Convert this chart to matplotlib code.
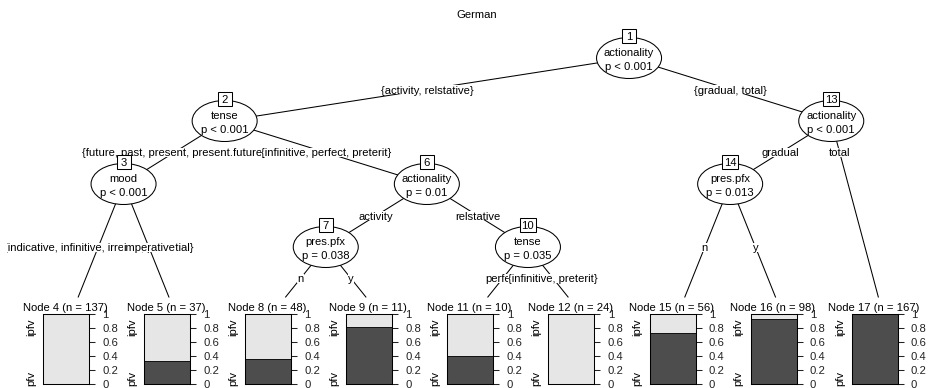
import matplotlib
matplotlib.use("Agg")
import matplotlib.pyplot as plt
from matplotlib.patches import Ellipse, Rectangle

W, H, DPI = 929, 388, 100
FS = 8.1
plt.rcParams['font.family'] = ['Liberation Sans', 'DejaVu Sans']

title = "German"

# inner (split) nodes
inner_ids = [1, 2, 3, 6, 7, 10, 13, 14]
split_vars = ["actionality", "tense", "mood", "actionality",
              "pres.pfx", "tense", "actionality", "pres.pfx"]
p_values = ["p < 0.001", "p < 0.001", "p < 0.001", "p = 0.01",
            "p = 0.038", "p = 0.035", "p < 0.001", "p = 0.013"]
children = [(2, 13), (3, 6), (4, 5), (7, 10), (8, 9), (11, 12), (14, 17), (15, 16)]
branch_labels = [
    ("{activity, relstative}", "{gradual, total}"),
    ("{future, past, present, present.future}", "{infinitive, perfect, preterit}"),
    ("{indicative, infinitive, irrealis, potential}", "imperative"),
    ("activity", "relstative"),
    ("n", "y"),
    ("perfect", "{infinitive, preterit}"),
    ("gradual", "total"),
    ("n", "y"),
]

# terminal nodes
terminal_ids = [4, 5, 8, 9, 11, 12, 15, 16, 17]
terminal_n = [137, 37, 48, 11, 10, 24, 56, 98, 167]
share_pfv = [0.007, 0.324, 0.354, 0.818, 0.40, 0.0, 0.732, 0.929, 1.0]
levels = ["pfv", "ipfv"]
level_colors = ["#4D4D4D", "#E6E6E6"]
yticks = [0, 0.2, 0.4, 0.6, 0.8, 1]
ytick_labels = ["0", "0.2", "0.4", "0.6", "0.8", "1"]

# ---- layout (pixel units) ----
X0, DX = 22.45, 101.1      # left boundary of terminal slot 0, slot width
Y0, DY = 58, 63            # row of the root, row spacing
TERM_TOP = 297             # top of terminal panels
BAR_TOP, BAR_BOTTOM = 314, 384
BAR_W = 46
CLIP_LEFT = 7.5            # left edge of the drawing region

kids = dict(zip(inner_ids, children))
edge_text = dict(zip(inner_ids, branch_labels))


def n_term(node):
    if node not in kids:
        return 1
    return sum(n_term(k) for k in kids[node])


pos = {}


def place(node, lo, depth):
    if node not in kids:
        pos[node] = (X0 + DX * (lo + 0.5), Y0 + DY * 4)
        return
    left, right = kids[node]
    nl = n_term(left)
    pos[node] = (X0 + DX * (lo + nl), Y0 + DY * depth)
    place(left, lo, depth + 1)
    place(right, lo + nl, depth + 1)


place(1, 0, 0)

fig = plt.figure(figsize=(W / DPI, H / DPI), dpi=DPI)
ax = fig.add_axes([0, 0, 1, 1])
ax.set_xlim(0, W)
ax.set_ylim(H, 0)
ax.axis('off')
renderer = fig.canvas.get_renderer()
region = Rectangle((CLIP_LEFT, 0), W - CLIP_LEFT, H, transform=ax.transData,
                   fc='none', ec='none')

ax.text(477, 18, title, ha='center', va='baseline', fontsize=FS)

zlab = [2.0]


def draw_edges(node):
    x0, y0 = pos[node]
    ks = kids[node]
    ypos = (y0 + min(pos[k][1] for k in ks)) / 2
    for k, lab in zip(ks, edge_text[node]):
        x1, y1 = pos[k]
        if k in kids:
            xe, ye = x1, y1
        else:
            t = (TERM_TOP - y0) / (y1 - y0)
            xe, ye = x0 + (x1 - x0) * t, TERM_TOP
        ax.plot([x0, xe], [y0, ye], color='black', lw=0.75, zorder=1)
        xpos = x0 + (x1 - x0) * (ypos - y0) / (y1 - y0)
        txt = ax.text(xpos, ypos + 4, lab, ha='center', va='baseline',
                      fontsize=FS, zorder=zlab[0] + 0.005)
        txt.set_clip_on(True)
        txt.set_clip_path(region)
        w = txt.get_window_extent(renderer).width
        ax.add_patch(Rectangle((xpos - w / 2, ypos - 4.5), w, 9,
                               fc='white', ec='none', zorder=zlab[0]))
        zlab[0] += 0.01
        if k in kids:
            draw_edges(k)


draw_edges(1)

# inner nodes
for nid, var, pv in zip(inner_ids, split_vars, p_values):
    x, y = pos[nid]
    ax.add_patch(Ellipse((x, y), 65, 41, fc='white', ec='black', lw=0.75, zorder=10))
    ax.text(x, y - 2, var, ha='center', va='baseline', fontsize=FS, zorder=11)
    ax.text(x, y + 12, pv, ha='center', va='baseline', fontsize=FS, zorder=11)
    t = ax.text(x, y - 22 + 4, str(nid), ha='center', va='baseline', fontsize=FS, zorder=13)
    idw = max(14, 1.3 * t.get_window_extent(renderer).width)
    ax.add_patch(Rectangle((x - idw / 2, y - 22 - 7), idw, 14,
                           fc='white', ec='black', lw=0.75, zorder=12))

# terminal panels
for tid, n, p in zip(terminal_ids, terminal_n, share_pfv):
    xc = pos[tid][0]
    left = xc - 30
    bax = fig.add_axes([left / W, (H - BAR_BOTTOM) / H, BAR_W / W,
                        (BAR_BOTTOM - BAR_TOP) / H])
    bax.bar([0], [p], width=1, color=level_colors[0], edgecolor='black', lw=0.6)
    bax.bar([0], [1 - p], bottom=p, width=1, color=level_colors[1],
            edgecolor='black', lw=0.6)
    bax.set_xlim(-0.5, 0.5)
    bax.set_ylim(0, 1)
    bax.set_xticks([])
    bax.yaxis.tick_right()
    bax.set_yticks(yticks)
    bax.set_yticklabels(ytick_labels, fontsize=FS)
    bax.tick_params(axis='y', length=4.5, width=0.75, pad=5, colors='#222222')
    for s in bax.spines.values():
        s.set_linewidth(0.75)
        s.set_color('black')
    ax.text(xc - 8, 311, f"Node {tid} (n = {n})", ha='center', va='baseline', fontsize=FS)
    ax.text(left - 12, 318, levels[1], rotation=90, ha='center', va='top', fontsize=FS)
    ax.text(left - 12, 386, levels[0], rotation=90, ha='center', va='bottom', fontsize=FS)

fig.savefig("out.png", dpi=DPI)
